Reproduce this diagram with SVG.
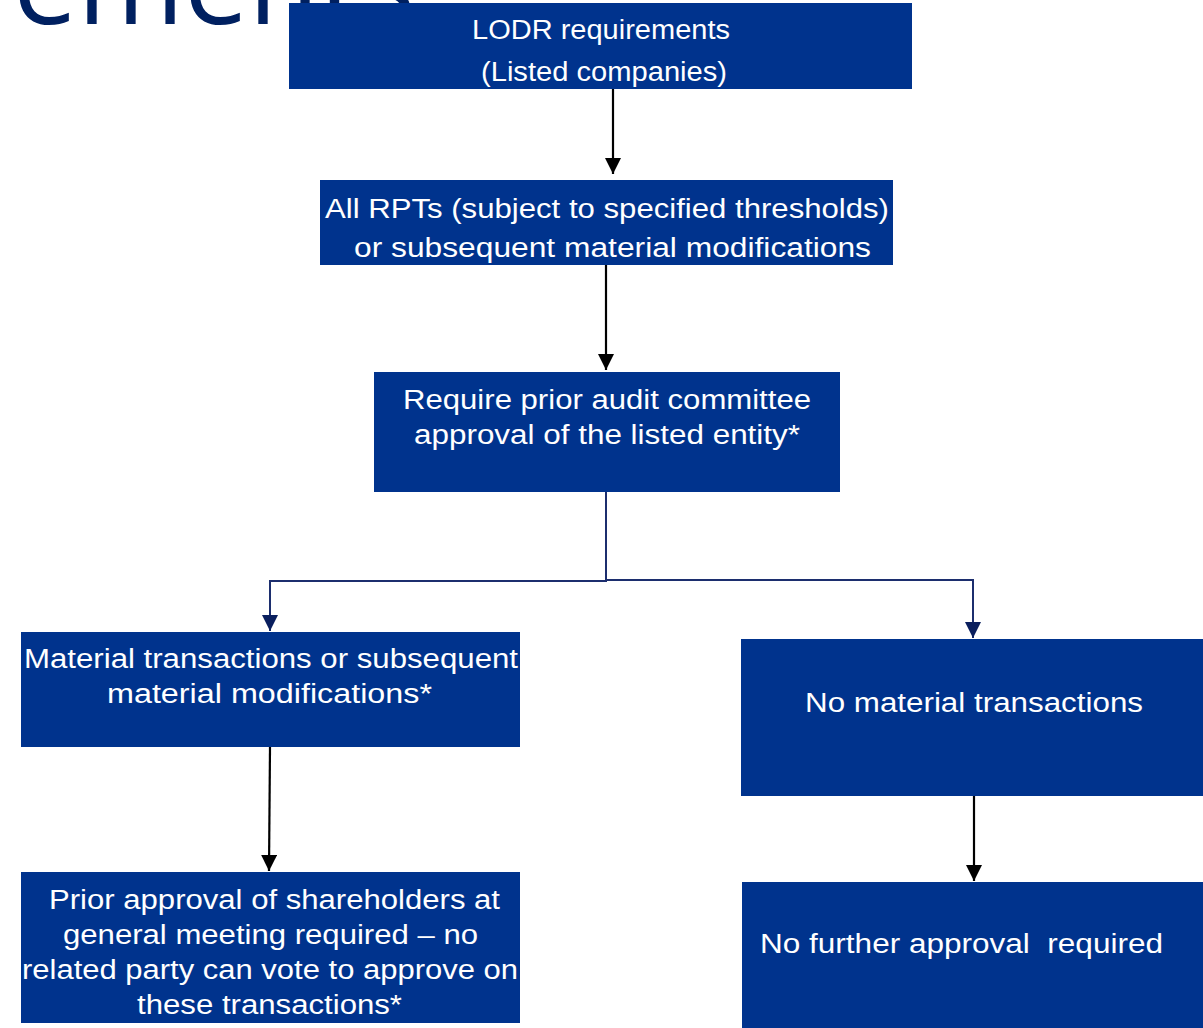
<svg xmlns="http://www.w3.org/2000/svg" width="1203" height="1028" viewBox="0 0 1203 1028">
  <style>
    .box { fill: #00338D; }
    .lbl { font-family: "Liberation Sans", Arial, sans-serif; font-size: 27px; fill: #ffffff; white-space: pre; }
    .title { font-family: "Open Sans", "Noto Sans", sans-serif; font-size: 115px; fill: #002060; }
    .dark { fill: none; stroke: #000000; stroke-width: 2.2; }
    .navy { fill: none; stroke: #1C2E6E; stroke-width: 2; }
  </style>
  <defs>
    <marker id="arrowBlack" markerUnits="userSpaceOnUse" markerWidth="16" markerHeight="16" refX="16" refY="8" orient="auto">
      <path d="M0,0 L16,8 L0,16 z" fill="#000000"/>
    </marker>
    <marker id="arrowNavy" markerUnits="userSpaceOnUse" markerWidth="16" markerHeight="16" refX="16" refY="8" orient="auto">
      <path d="M0,0 L16,8 L0,16 z" fill="#0A1F5E"/>
    </marker>
  </defs>

  <rect width="1203" height="1028" fill="#ffffff"/>

  <!-- slide heading, mostly above the top edge -->
  <text class="title" x="13" y="24">ements</text>

  <g id="connectors">
    <path class="dark" d="M613,89 V174" marker-end="url(#arrowBlack)"/>
    <path class="dark" d="M606,265 V370" marker-end="url(#arrowBlack)"/>
    <path class="navy" d="M606,492 V581 H270 V631" marker-end="url(#arrowNavy)"/>
    <path class="navy" d="M606,580 H973 V638" marker-end="url(#arrowNavy)"/>
    <path class="dark" d="M270,747 L269,871" marker-end="url(#arrowBlack)"/>
    <path class="dark" d="M974,796 V881" marker-end="url(#arrowBlack)"/>
  </g>

  <g id="lodr">
    <rect class="box" x="289" y="3" width="623" height="86"/>
    <text class="lbl" x="472" y="39" textLength="258" lengthAdjust="spacingAndGlyphs">LODR requirements</text>
    <text class="lbl" x="481" y="81" textLength="246" lengthAdjust="spacingAndGlyphs">(Listed companies)</text>
  </g>

  <g id="all-rpts">
    <rect class="box" x="320" y="180" width="573" height="85"/>
    <text class="lbl" x="325" y="218" textLength="564" lengthAdjust="spacingAndGlyphs">All RPTs (subject to specified thresholds)</text>
    <text class="lbl" x="354" y="257" textLength="517" lengthAdjust="spacingAndGlyphs">or subsequent material modifications</text>
  </g>

  <g id="audit-committee">
    <rect class="box" x="374" y="372" width="466" height="120"/>
    <text class="lbl" x="403" y="409" textLength="408" lengthAdjust="spacingAndGlyphs">Require prior audit committee</text>
    <text class="lbl" x="414" y="444" textLength="386" lengthAdjust="spacingAndGlyphs">approval of the listed entity*</text>
  </g>

  <g id="material">
    <rect class="box" x="21" y="632" width="499" height="115"/>
    <text class="lbl" x="24" y="668" textLength="494" lengthAdjust="spacingAndGlyphs">Material transactions or subsequent</text>
    <text class="lbl" x="107" y="703" textLength="325" lengthAdjust="spacingAndGlyphs">material modifications*</text>
  </g>

  <g id="no-material">
    <rect class="box" x="741" y="639" width="462" height="157"/>
    <text class="lbl" x="805" y="712" textLength="338" lengthAdjust="spacingAndGlyphs">No material transactions</text>
  </g>

  <g id="shareholders">
    <rect class="box" x="21" y="872" width="499" height="151"/>
    <text class="lbl" x="49" y="909" textLength="451" lengthAdjust="spacingAndGlyphs">Prior approval of shareholders at</text>
    <text class="lbl" x="63" y="944" textLength="415" lengthAdjust="spacingAndGlyphs">general meeting required – no</text>
    <text class="lbl" x="22" y="979" textLength="496" lengthAdjust="spacingAndGlyphs">related party can vote to approve on</text>
    <text class="lbl" x="137" y="1014" textLength="265" lengthAdjust="spacingAndGlyphs">these transactions*</text>
  </g>

  <g id="no-further">
    <rect class="box" x="742" y="882" width="461" height="146"/>
    <text class="lbl" x="760" y="953" textLength="403" lengthAdjust="spacingAndGlyphs">No further approval  required</text>
  </g>
</svg>
